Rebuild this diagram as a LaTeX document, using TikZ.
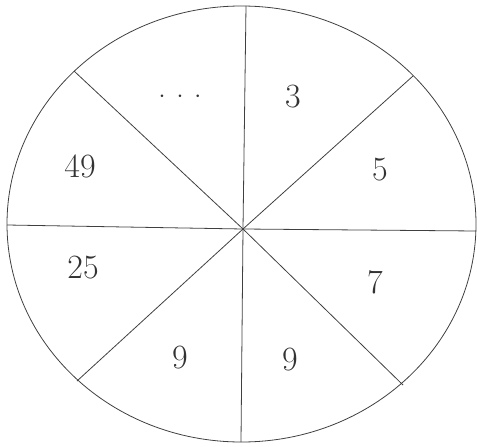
\documentclass[tikz,border=0pt]{standalone}
\begin{document}
\begin{tikzpicture}[x=1pt,y=-1pt,
  seg/.style={draw=black!75,line width=0.8pt},
  num/.style={font=\fontsize{34}{38}\selectfont,text=black!80,inner sep=0pt}]
\useasboundingbox (0,0) rectangle (477,447);
\coordinate (O) at (243,229);
\coordinate (T) at (246,6);
\coordinate (B) at (241,442);
\coordinate (L) at (7,225);
\coordinate (R) at (476,231);
\coordinate (UL) at (74,71);
\coordinate (UR) at (413,76);
\coordinate (LL) at (77,381);
\coordinate (LR) at (403,385);
\draw[seg] (241.5,224) ellipse [x radius=234.5, y radius=218];
\foreach \p in {T,B,L,R,UL,UR,LL,LR} \draw[seg] (O) -- (\p);
\node[num] (n0) at (180,97) {$\cdot\mkern4mu\cdot\mkern4mu\cdot$};
\node[num] (n1) at (293,97) {3};
\node[num] (n2) at (80,166) {49};
\node[num] (n3) at (380,170) {5};
\node[num] (n4) at (83,268) {25};
\node[num] (n5) at (375,282) {7};
\node[num] (n6) at (180,358) {9};
\node[num] (n7) at (290,360) {9};
\end{tikzpicture}
\end{document}
